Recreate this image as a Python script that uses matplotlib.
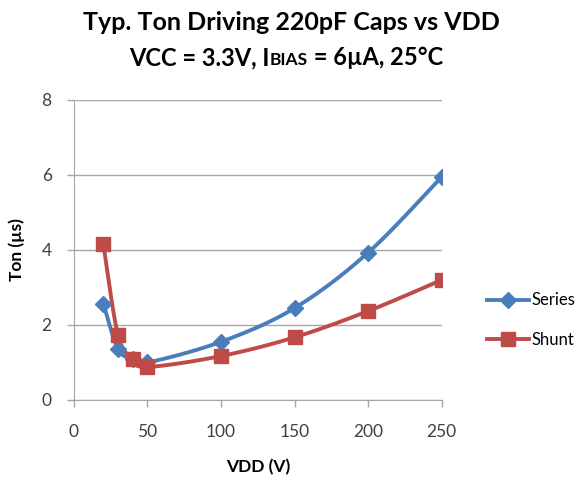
import numpy as np
import matplotlib.pyplot as plt
from matplotlib.lines import Line2D

plt.rcParams['font.family'] = ['Lato', 'DejaVu Sans']

vdd = [20, 30, 40, 50, 100, 150, 200, 250]
series_ton = [2.57, 1.35, 1.10, 1.00, 1.55, 2.45, 3.93, 5.95]
shunt_ton = [4.15, 1.72, 1.10, 0.88, 1.17, 1.67, 2.37, 3.20]

blue = '#4A7EBB'
red = '#BE4B48'
grey = '#A6A6A6'


def smooth(x, y, xr=250.0, yr=8.0, n=30):
    # excel-like smoothed line: cubic bezier through the points
    p = np.column_stack([np.asarray(x, float) / xr, np.asarray(y, float) / yr])
    out = [p[0]]
    for i in range(len(p) - 1):
        p0 = p[i - 1] if i > 0 else p[i]
        p1, p2 = p[i], p[i + 1]
        p3 = p[i + 2] if i + 2 < len(p) else p[i + 1]
        c1 = p1 + (p2 - p0) / 6
        c2 = p2 - (p3 - p1) / 6
        t = np.linspace(0, 1, n)[1:, None]
        seg = ((1 - t) ** 3) * p1 + 3 * ((1 - t) ** 2) * t * c1 + 3 * (1 - t) * t ** 2 * c2 + t ** 3 * p2
        out.extend(seg)
    out = np.array(out)
    return out[:, 0] * xr, out[:, 1] * yr


fig = plt.figure(figsize=(5.82, 4.83), dpi=100)
ax = fig.add_axes([0.127, 0.172, 0.632, 0.621])

sx, sy = smooth(vdd, series_ton)
ax.plot(sx, sy, color=blue, lw=2.8, zorder=3)
ax.plot(vdd, series_ton, ls='none', marker='D', ms=8, color=blue, zorder=4)
hx, hy = smooth(vdd, shunt_ton)
ax.plot(hx, hy, color=red, lw=2.8, zorder=3)
ax.plot(vdd, shunt_ton, ls='none', marker='s', ms=10, color=red, zorder=4)

ax.set_xlim(0, 250)
ax.set_ylim(0, 8)
ax.set_xticks(range(0, 251, 50))
ax.set_yticks(range(0, 9, 2))
ax.grid(axis='y', color=grey, lw=1)
ax.set_axisbelow(True)
for s in ['top', 'right']:
    ax.spines[s].set_visible(False)
for s in ['left', 'bottom']:
    ax.spines[s].set_color(grey)
ax.tick_params(colors=grey, labelcolor='#404040', labelsize=12.5, length=5, width=1)
ax.tick_params(axis='x', pad=12)
ax.tick_params(axis='y', pad=11)
ax.set_xlabel('VDD (V)', fontsize=12.5, fontweight='bold', labelpad=14)
ax.set_ylabel('Ton (µs)', fontsize=12.5, fontweight='bold', labelpad=12)

handles = [Line2D([], [], color=blue, lw=2.8, marker='D', ms=8),
           Line2D([], [], color=red, lw=2.8, marker='s', ms=10)]
fig.legend(handles, ['Series', 'Shunt'], loc='center left', bbox_to_anchor=(487 / 582, 1 - 320 / 483),
           frameon=False, fontsize=12, handlelength=2.5, labelspacing=1.4, handletextpad=0.15,
           borderpad=0, borderaxespad=0)

fig.text(0.5, 0.954, 'Typ. Ton Driving 220pF Caps vs VDD', ha='center', va='center',
         fontsize=18, fontweight='bold')
t1 = fig.text(129 / 582, 1 - 65 / 483, 'VCC = 3.3V, I', ha='left', va='baseline',
              fontsize=17, fontweight='bold')
t2 = fig.text(0, 0, 'BIAS', fontsize=12.5, fontweight='bold', va='baseline')
t3 = fig.text(0, 0, ' = 6µA, 25°C', fontsize=17, fontweight='bold', va='baseline')
fig.canvas.draw()
r = fig.canvas.get_renderer()
b1 = t1.get_window_extent(r)
t2.set_position((b1.x1 / fig.bbox.width, t1.get_position()[1]))
b2 = t2.get_window_extent(r)
t3.set_position((b2.x1 / fig.bbox.width, t1.get_position()[1]))

fig.savefig('out.png', dpi=100)
